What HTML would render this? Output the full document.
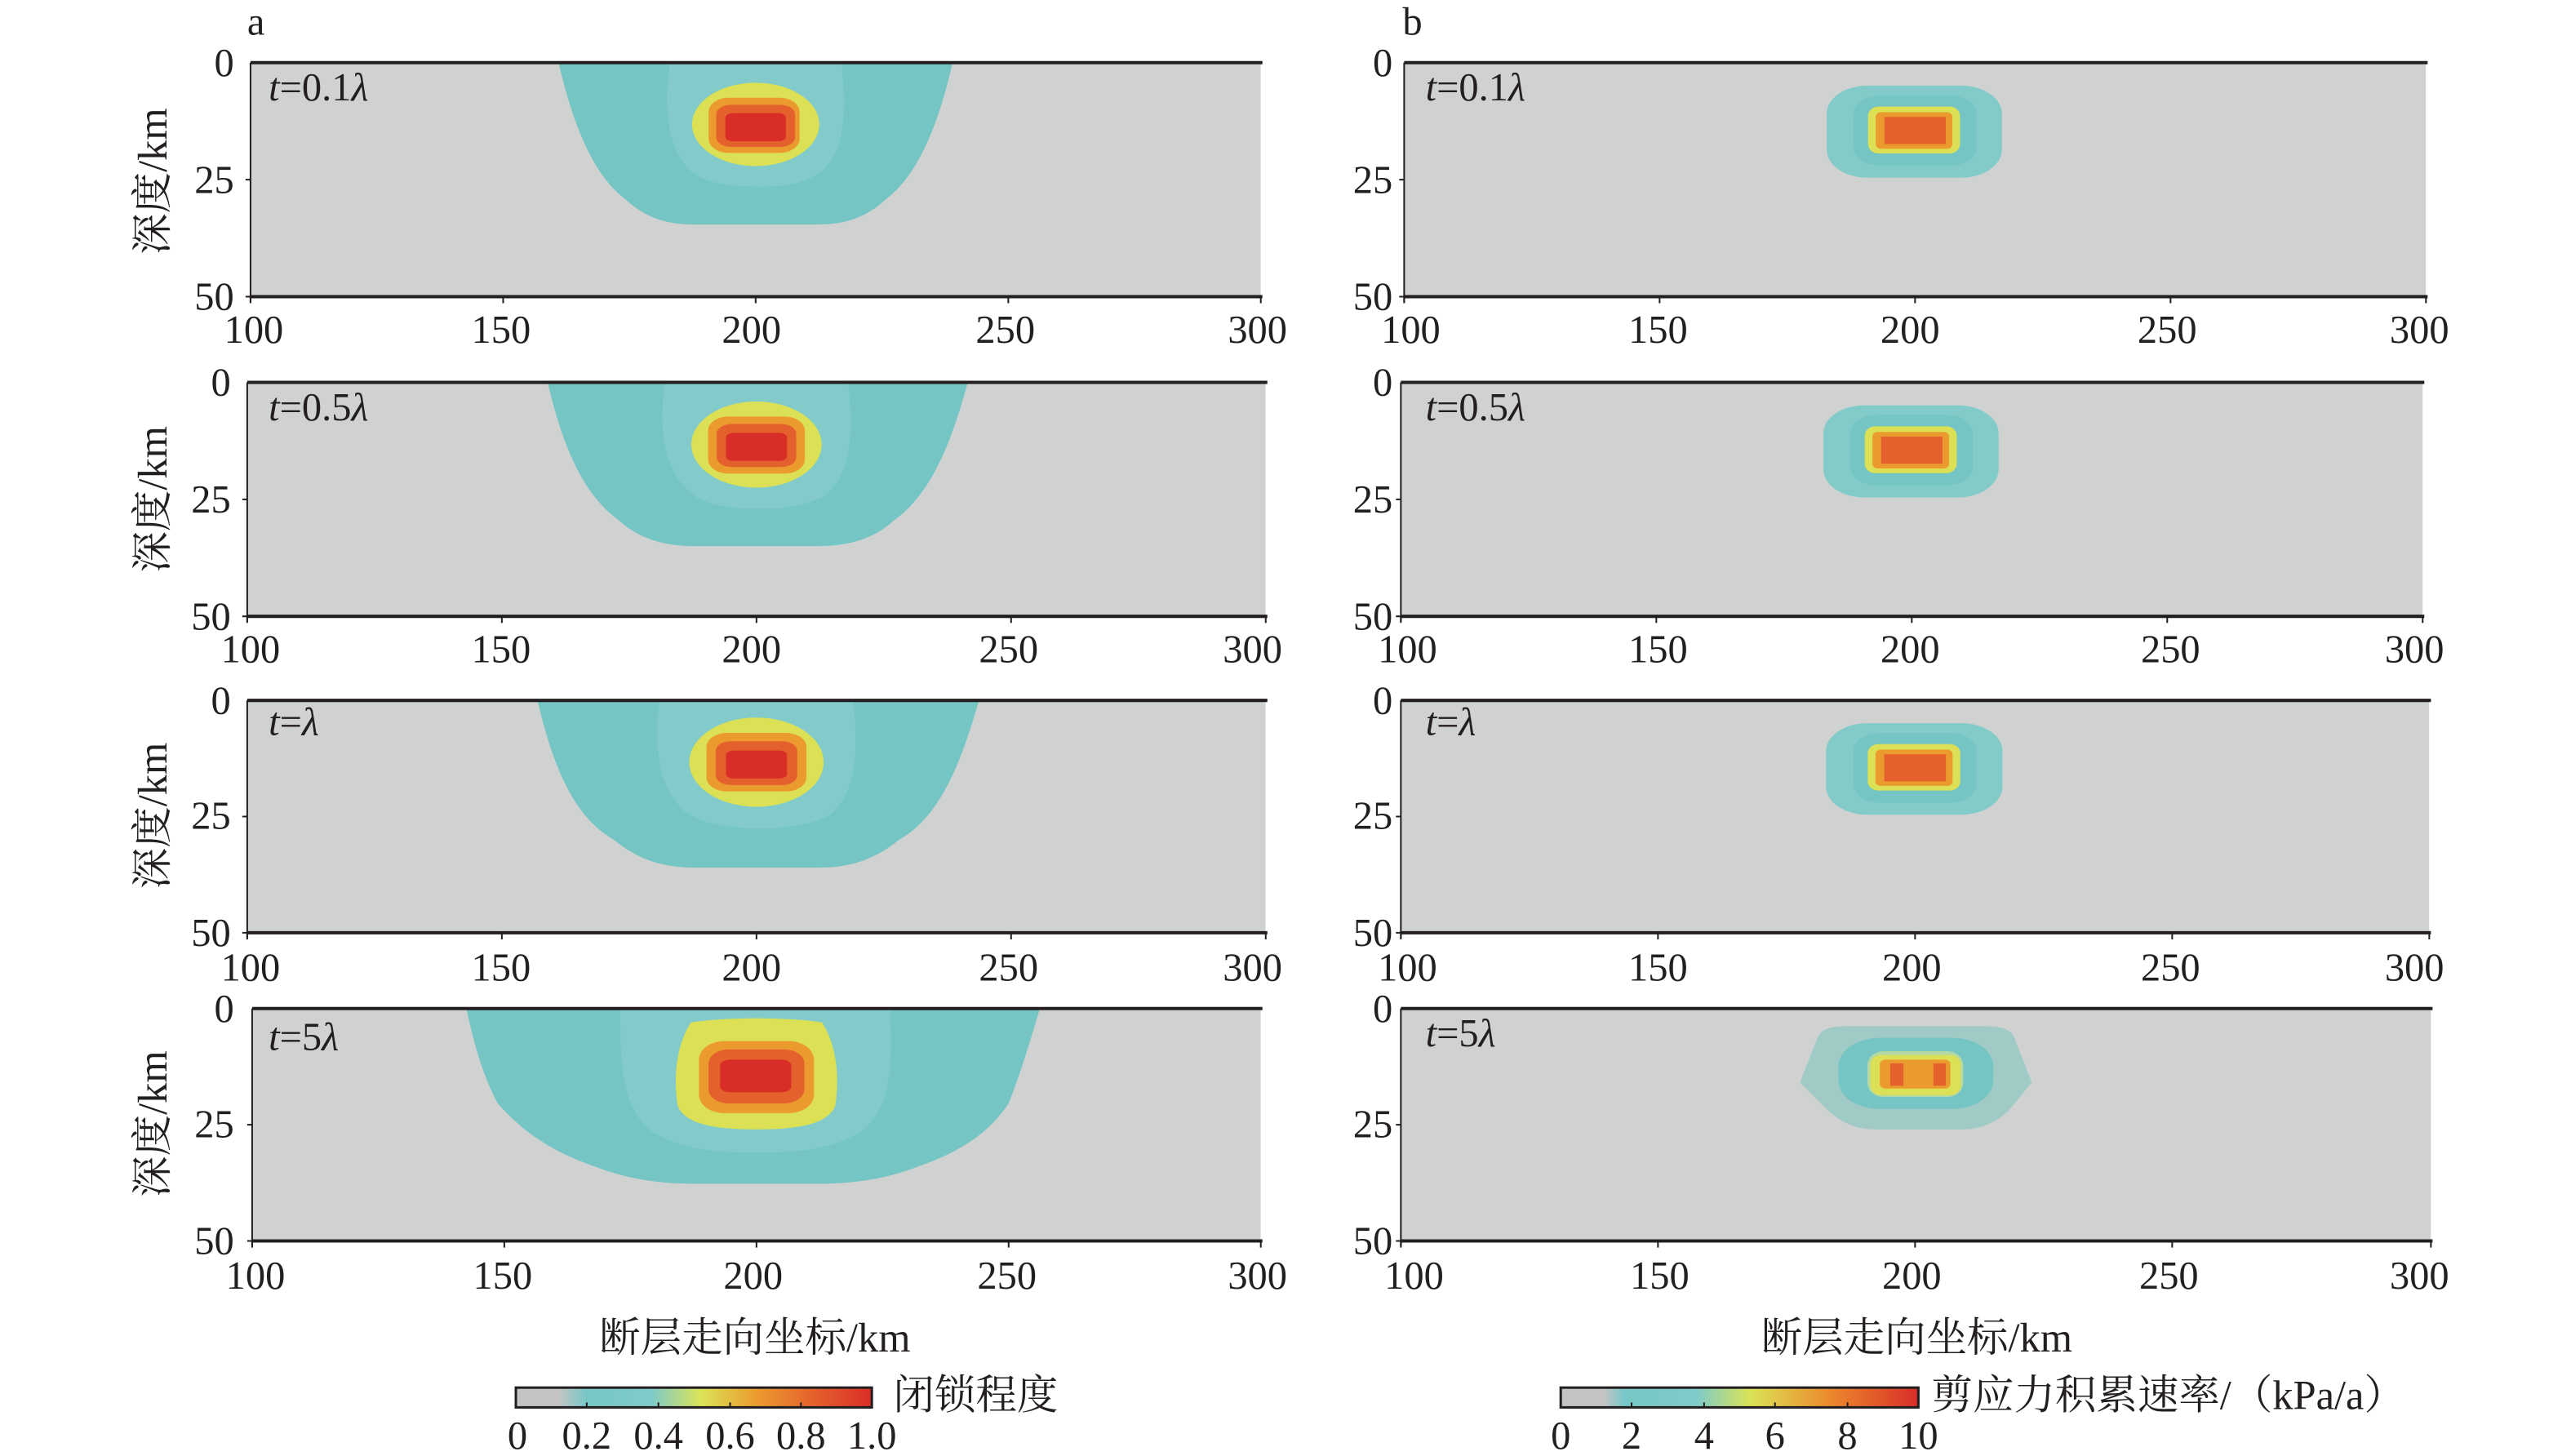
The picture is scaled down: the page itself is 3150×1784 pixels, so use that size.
<!DOCTYPE html>
<html><head><meta charset="utf-8"><style>
html,body{margin:0;padding:0;background:#fff;}
svg{display:block;}
text{font-family:"Liberation Serif","Noto Serif CJK SC","Noto Sans CJK SC",serif;fill:#231f20;}
.t{font-size:24px;}
.c{font-size:25px;}
</style></head><body>
<svg width="3150" height="1784" viewBox="0 0 1560 883.5" preserveAspectRatio="none" xmlns="http://www.w3.org/2000/svg">
<defs>
<linearGradient id="gl" x1="0" x2="1" y1="0" y2="0">
<stop offset="0" stop-color="#c4c4c4"/><stop offset="0.12" stop-color="#c4c4c4"/>
<stop offset="0.2" stop-color="#76c7c7"/><stop offset="0.38" stop-color="#7ecbca"/>
<stop offset="0.52" stop-color="#dbe356"/><stop offset="0.68" stop-color="#eb9a2e"/>
<stop offset="0.84" stop-color="#e4602c"/><stop offset="1" stop-color="#d92d27"/>
</linearGradient>
<linearGradient id="gr" x1="0" x2="1" y1="0" y2="0">
<stop offset="0" stop-color="#c4c4c4"/><stop offset="0.12" stop-color="#c4c4c4"/>
<stop offset="0.18" stop-color="#76c7c7"/><stop offset="0.38" stop-color="#7ecbca"/>
<stop offset="0.53" stop-color="#dbe356"/><stop offset="0.75" stop-color="#eb8a2e"/>
<stop offset="1" stop-color="#d92d27"/>
</linearGradient>
<g id="L1">
<rect x="100" y="0" width="200" height="50" fill="#d0d2d1"/>
<path d="M161,0 L239,0 C236,14 232,24 226,29 C222,33 218,34.6 212,34.6 L188,34.6 C182,34.6 178,33 174,29 C168,24 164,14 161,0 Z" fill="#74c5c4"/>
<path d="M183,0 L217,0 C218,10 218,20 212,24 C208,26.5 204,26.5 200,26.5 C196,26.5 190,26 187,23 C182,18 182,8 183,0 Z" fill="#82cbca"/>
<ellipse cx="200" cy="13.2" rx="12.6" ry="8.9" fill="#dbe054"/>
<rect x="190.7" y="7.5" width="18" height="11.8" rx="4" ry="3" fill="#eb9a2e"/>
<rect x="192.2" y="9" width="15.6" height="9" rx="3" ry="2" fill="#e4602c"/>
<rect x="194" y="10.8" width="12" height="6" rx="1.5" ry="1" fill="#d92d27"/>
</g>
<g id="L2">
<rect x="100" y="0" width="200" height="50" fill="#d0d2d1"/>
<path d="M159,0 L241.5,0 C238,14 234,24 227,29.5 C223,33.5 218,35 212,35 L188,35 C182,35 177,33.5 173,29.5 C166,24 162,14 159,0 Z" fill="#74c5c4"/>
<path d="M182,0 L218,0 C219,10 219,20 213,24.5 C208,27 204,27 200,27 C196,27 190,26.5 187,23.5 C181,18 181,8 182,0 Z" fill="#82cbca"/>
<ellipse cx="200" cy="13.3" rx="12.8" ry="9.2" fill="#dbe054"/>
<rect x="190.5" y="7.3" width="19" height="12.2" rx="4" ry="3" fill="#eb9a2e"/>
<rect x="192.2" y="8.9" width="15.6" height="9.2" rx="3" ry="2" fill="#e4602c"/>
<rect x="194" y="10.8" width="12" height="6" rx="1.5" ry="1" fill="#d92d27"/>
</g>
<g id="L3">
<rect x="100" y="0" width="200" height="50" fill="#d0d2d1"/>
<path d="M157,0 L243.7,0 C240,14 236,25 228,30 C223,34.5 218,36 212,36 L188,36 C182,36 177,34.5 172,30 C164,25 160,14 157,0 Z" fill="#74c5c4"/>
<path d="M181,0 L219,0 C220,10 220,20 214,25 C209,27.5 204,27.5 200,27.5 C196,27.5 190,27 186,24 C180,18 180,8 181,0 Z" fill="#82cbca"/>
<ellipse cx="200" cy="13.3" rx="13.2" ry="9.6" fill="#dbe054"/>
<rect x="190.2" y="7" width="19.6" height="12.6" rx="4" ry="3" fill="#eb9a2e"/>
<rect x="192" y="8.8" width="16" height="9.4" rx="3" ry="2" fill="#e4602c"/>
<rect x="194" y="10.8" width="12" height="6" rx="1.5" ry="1" fill="#d92d27"/>
</g>
<g id="L4">
<rect x="100" y="0" width="200" height="50" fill="#d0d2d1"/>
<path d="M142.5,0 L256.2,0 C254,8 252,15 250,20.4 C246,27 240,31 232,34 C226,36.5 220,37.7 212,37.7 L188,37.7 C180,37.7 174,36.5 168,34 C160,31 154,27 148.7,20.4 C146,15 144,8 142.5,0 Z" fill="#74c5c4"/>
<path d="M173,0 L226.5,0 C227,12 227,22 220,27 C214,30.5 207,31 200,31 C193,31 186,30.5 180,27 C173,22 173,12 173,0 Z" fill="#82cbca"/>
<path d="M187,3 C193,1.8 207,1.8 213,3 C216,8 216.5,15 215.6,21 C214,25 208,26 200,26 C192,26 186,25 184.4,21 C183.5,15 184,8 187,3 Z" fill="#dbe054"/>
<rect x="188.6" y="7" width="22.8" height="15.5" rx="5" ry="4" fill="#eb9a2e"/>
<rect x="190.5" y="8.8" width="19" height="11.6" rx="4" ry="3" fill="#e4602c"/>
<rect x="192.8" y="11" width="14.1" height="7" rx="2" ry="1.2" fill="#d92d27"/>
</g>
<g id="R1">
<rect x="100" y="0" width="200" height="50" fill="#d0d2d1"/>
<rect x="182.7" y="4.9" width="34.3" height="19.7" rx="8" ry="6" fill="#83cbc9"/>
<rect x="188" y="7" width="24" height="15" rx="5" ry="4" fill="#74c5c4"/>
<rect x="190.8" y="9.4" width="18" height="10" rx="2" ry="2" fill="#dbe054"/>
<rect x="192.3" y="10.6" width="15" height="7.8" rx="1" ry="1" fill="#eb9a2e"/>
<rect x="194" y="11.6" width="12" height="5.8" fill="#e4602c"/>
</g>
<g id="R4">
<rect x="100" y="0" width="200" height="50" fill="#d0d2d1"/>
<path d="M188,3.8 L212,3.8 C216,3.8 218,4 219,6 L222.5,15.9 L218,22 C215,25 212,26 209,26 L192,26 C189,26 186,25 183,22 L177.5,15.9 L181,6 C182,4 184,3.8 188,3.8 Z" fill="#9fcac6"/>
<rect x="185" y="6.3" width="30" height="15.3" rx="8" ry="6" fill="#74c5c4"/>
<rect x="190.6" y="9.2" width="18.6" height="9.8" rx="3" ry="3" fill="#b6d9a2"/>
<rect x="191.2" y="10" width="17.5" height="8.6" rx="2" ry="2" fill="#dbe054"/>
<rect x="193" y="11" width="13.7" height="6.2" rx="1" ry="1" fill="#eb9a2e"/>
<rect x="195" y="11.8" width="2.6" height="4.8" fill="#e4602c"/>
<rect x="203.4" y="11.8" width="2.4" height="4.8" fill="#e4602c"/>
</g>
</defs>

<text x="150" y="21" class="t">a</text>
<text x="851" y="21" class="t">b</text>

<!-- Left panels -->
<svg x="152" y="38" width="613" height="142" viewBox="100 0 200 50" preserveAspectRatio="none"><use href="#L1"/></svg>
<svg x="150" y="232" width="618" height="142" viewBox="100 0 200 50" preserveAspectRatio="none"><use href="#L2"/></svg>
<svg x="150" y="425" width="618" height="141" viewBox="100 0 200 50" preserveAspectRatio="none"><use href="#L3"/></svg>
<svg x="153" y="612" width="612" height="141" viewBox="100 0 200 50" preserveAspectRatio="none"><use href="#L4"/></svg>
<!-- Right panels -->
<svg x="852" y="38" width="620" height="142" viewBox="100 0 200 50" preserveAspectRatio="none"><use href="#R1"/></svg>
<svg x="850" y="232" width="620" height="142" viewBox="100 0 200 50" preserveAspectRatio="none"><use href="#R1"/></svg>
<svg x="850" y="425" width="624" height="141" viewBox="100 0 200 50" preserveAspectRatio="none"><use href="#R1"/></svg>
<svg x="850" y="612" width="625" height="141" viewBox="100 0 200 50" preserveAspectRatio="none"><use href="#R4"/></svg>

<g stroke="#231f20" fill="none">
<!-- frames -->
<path d="M152,38 H766 M152,180 H766" stroke-width="2"/><path d="M152,38 V183" stroke-width="1"/>
<path d="M150,232 H769 M150,374 H769" stroke-width="2"/><path d="M150,232 V377" stroke-width="1"/>
<path d="M150,425 H769 M150,566 H769" stroke-width="2"/><path d="M150,425 V569" stroke-width="1"/>
<path d="M153,612 H766 M153,753 H766" stroke-width="2"/><path d="M153,612 V756" stroke-width="1"/>
<path d="M852,38 H1473 M852,180 H1473" stroke-width="2"/><path d="M852,38 V183" stroke-width="1"/>
<path d="M850,232 H1471 M850,374 H1471" stroke-width="2"/><path d="M850,232 V377" stroke-width="1"/>
<path d="M850,425 H1475 M850,566 H1475" stroke-width="2"/><path d="M850,425 V569" stroke-width="1"/>
<path d="M850,612 H1476 M850,753 H1476" stroke-width="2"/><path d="M850,612 V756" stroke-width="1"/>
<!-- ticks -->
<g stroke-width="1">
<path d="M149,109 H152 M149,180 H152 M152,180 V184 M305.3,180 V184 M458.5,180 V184 M611.8,180 V184 M765,180 V184"/>
<path d="M147,303 H150 M147,374 H150 M150,374 V378 M304.5,374 V378 M459,374 V378 M613.5,374 V378 M768,374 V378"/>
<path d="M147,495.5 H150 M147,566 H150 M150,566 V570 M304.5,566 V570 M459,566 V570 M613.5,566 V570 M768,566 V570"/>
<path d="M150,682.5 H153 M150,753 H153 M153,753 V757 M306,753 V757 M459,753 V757 M612,753 V757 M765,753 V757"/>
<path d="M849,109 H852 M849,180 H852 M852,180 V184 M1007,180 V184 M1162,180 V184 M1317,180 V184 M1472,180 V184"/>
<path d="M847,303 H850 M847,374 H850 M850,374 V378 M1005,374 V378 M1160,374 V378 M1315,374 V378 M1470,374 V378"/>
<path d="M847,495.5 H850 M847,566 H850 M850,566 V570 M1006,566 V570 M1162,566 V570 M1318,566 V570 M1474,566 V570"/>
<path d="M847,682.5 H850 M847,753 H850 M850,753 V757 M1006,753 V757 M1162,753 V757 M1318,753 V757 M1475,753 V757"/>
</g>
</g>

<!-- Y labels -->
<g class="t" text-anchor="end">
<text x="142" y="46">0</text><text x="142" y="117">25</text><text x="142" y="188">50</text>
<text x="140" y="240">0</text><text x="140" y="311">25</text><text x="140" y="382">50</text>
<text x="140" y="433">0</text><text x="140" y="503">25</text><text x="140" y="574">50</text>
<text x="142" y="620">0</text><text x="142" y="690">25</text><text x="142" y="761">50</text>
<text x="845" y="46">0</text><text x="845" y="117">25</text><text x="845" y="188">50</text>
<text x="845" y="240">0</text><text x="845" y="311">25</text><text x="845" y="382">50</text>
<text x="845" y="433">0</text><text x="845" y="503">25</text><text x="845" y="574">50</text>
<text x="845" y="620">0</text><text x="845" y="690">25</text><text x="845" y="761">50</text>
</g>
<!-- X labels -->
<g class="t" text-anchor="middle">
<text x="154" y="208">100</text><text x="304" y="208">150</text><text x="456" y="208">200</text><text x="610" y="208">250</text><text x="763" y="208">300</text>
<text x="152" y="402">100</text><text x="304" y="402">150</text><text x="456" y="402">200</text><text x="612" y="402">250</text><text x="760" y="402">300</text>
<text x="152" y="595">100</text><text x="304" y="595">150</text><text x="456" y="595">200</text><text x="612" y="595">250</text><text x="760" y="595">300</text>
<text x="155" y="782">100</text><text x="305" y="782">150</text><text x="457" y="782">200</text><text x="611" y="782">250</text><text x="763" y="782">300</text>
<text x="856" y="208">100</text><text x="1006" y="208">150</text><text x="1159" y="208">200</text><text x="1315" y="208">250</text><text x="1468" y="208">300</text>
<text x="854" y="402">100</text><text x="1006" y="402">150</text><text x="1159" y="402">200</text><text x="1317" y="402">250</text><text x="1465" y="402">300</text>
<text x="854" y="595">100</text><text x="1006" y="595">150</text><text x="1160" y="595">200</text><text x="1317" y="595">250</text><text x="1465" y="595">300</text>
<text x="858" y="782">100</text><text x="1007" y="782">150</text><text x="1160" y="782">200</text><text x="1316" y="782">250</text><text x="1468" y="782">300</text>
</g>
<!-- Y titles -->
<g class="c" text-anchor="middle">
<text transform="translate(101,110) rotate(-90)">深度/km</text>
<text transform="translate(101,303) rotate(-90)">深度/km</text>
<text transform="translate(101,495) rotate(-90)">深度/km</text>
<text transform="translate(101,682) rotate(-90)">深度/km</text>
</g>
<!-- panel time labels -->
<g class="t">
<text x="163" y="61"><tspan font-style="italic">t</tspan>=0.1<tspan font-style="italic">λ</tspan></text>
<text x="163" y="255"><tspan font-style="italic">t</tspan>=0.5<tspan font-style="italic">λ</tspan></text>
<text x="163" y="446"><tspan font-style="italic">t</tspan>=<tspan font-style="italic">λ</tspan></text>
<text x="163" y="637"><tspan font-style="italic">t</tspan>=5<tspan font-style="italic">λ</tspan></text>
<text x="865" y="61"><tspan font-style="italic">t</tspan>=0.1<tspan font-style="italic">λ</tspan></text>
<text x="865" y="255"><tspan font-style="italic">t</tspan>=0.5<tspan font-style="italic">λ</tspan></text>
<text x="865" y="446"><tspan font-style="italic">t</tspan>=<tspan font-style="italic">λ</tspan></text>
<text x="865" y="635"><tspan font-style="italic">t</tspan>=5<tspan font-style="italic">λ</tspan></text>
</g>
<!-- x titles -->
<text x="458" y="820" class="c" text-anchor="middle">断层走向坐标/km</text>
<text x="1163" y="820" class="c" text-anchor="middle">断层走向坐标/km</text>

<!-- colorbars -->
<rect x="313" y="842" width="216" height="12" fill="url(#gl)" stroke="#231f20" stroke-width="1.5"/>
<path d="M356,854 V851 M399.5,854 V851 M443,854 V851 M486,854 V851" stroke="#231f20" stroke-width="1"/>
<text x="542" y="855" class="c">闭锁程度</text>
<g class="t" text-anchor="middle">
<text x="314" y="879">0</text><text x="356" y="879">0.2</text><text x="399.5" y="879">0.4</text><text x="443" y="879">0.6</text><text x="486" y="879">0.8</text><text x="529" y="879">1.0</text>
</g>
<rect x="947" y="842" width="217" height="12" fill="url(#gr)" stroke="#231f20" stroke-width="1.5"/>
<path d="M990,854 V851 M1034,854 V851 M1077,854 V851 M1121,854 V851" stroke="#231f20" stroke-width="1"/>
<text x="1172" y="855" class="c">剪应力积累速率/（kPa/a）</text>
<g class="t" text-anchor="middle">
<text x="947" y="879">0</text><text x="990" y="879">2</text><text x="1034" y="879">4</text><text x="1077" y="879">6</text><text x="1121" y="879">8</text><text x="1164" y="879">10</text>
</g>
</svg>
</body></html>
